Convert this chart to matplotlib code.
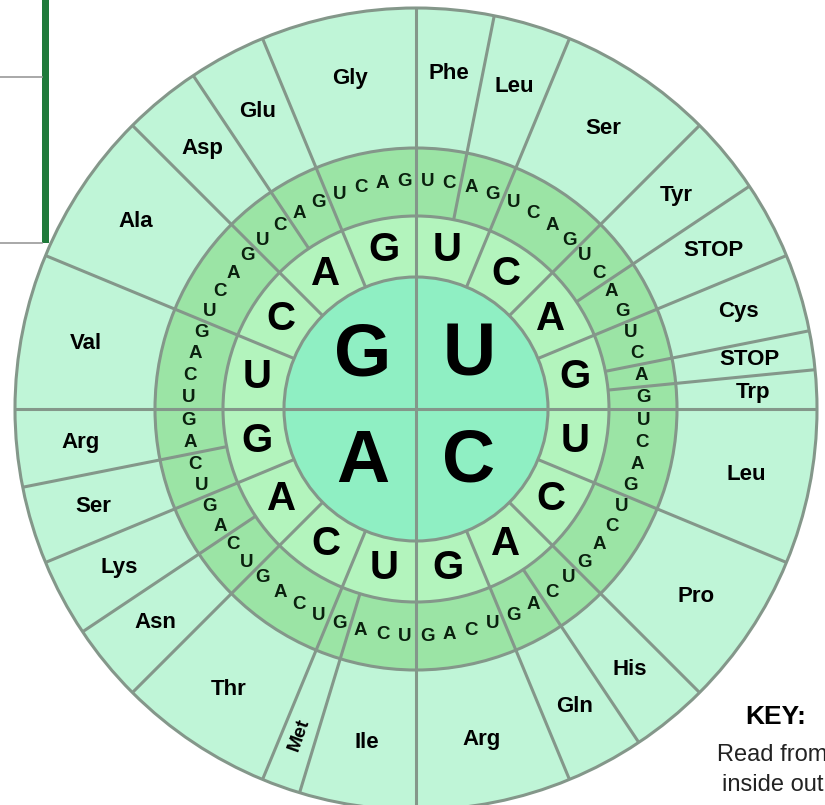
import matplotlib.pyplot as plt
import numpy as np
from matplotlib.patches import Circle, Rectangle

plt.rcParams['font.family'] = ['Liberation Sans', 'DejaVu Sans']

# codon wheel data, clockwise from 12 o'clock
bases = ['U', 'C', 'A', 'G']
amino = ['Phe', 'Phe', 'Leu', 'Leu', 'Ser', 'Ser', 'Ser', 'Ser',
         'Tyr', 'Tyr', 'STOP', 'STOP', 'Cys', 'Cys', 'STOP', 'Trp',
         'Leu', 'Leu', 'Leu', 'Leu', 'Pro', 'Pro', 'Pro', 'Pro',
         'His', 'His', 'Gln', 'Gln', 'Arg', 'Arg', 'Arg', 'Arg',
         'Ile', 'Ile', 'Ile', 'Met', 'Thr', 'Thr', 'Thr', 'Thr',
         'Asn', 'Asn', 'Lys', 'Lys', 'Ser', 'Ser', 'Arg', 'Arg',
         'Val', 'Val', 'Val', 'Val', 'Ala', 'Ala', 'Ala', 'Ala',
         'Asp', 'Asp', 'Glu', 'Glu', 'Gly', 'Gly', 'Gly', 'Gly']
key_title = 'KEY:'
key_text = ['Read from', 'inside out']

# colours
c_center = '#8fefc3'
c_ring2 = '#b3f4bd'
c_ring3 = '#9be4a5'
c_outer = '#bff5d7'
c_line = '#84978a'

W, H = 825, 805
cx, cy = 416, H - 409
r0, r1, r2, R = 132, 193, 261, 401

fig = plt.figure(figsize=(W / 100, H / 100), dpi=100)
ax = fig.add_axes([0, 0, 1, 1])
ax.set_xlim(0, W)
ax.set_ylim(0, H)
ax.axis('off')


def pt(r, th):
    # th = degrees clockwise from top
    a = np.radians(90 - th)
    return cx + r * np.cos(a), cy + r * np.sin(a)


def radial(th, ra, rb):
    x1, y1 = pt(ra, th)
    x2, y2 = pt(rb, th)
    ax.plot([x1, x2], [y1, y2], color=c_line, lw=2.2, zorder=3, solid_capstyle='butt')


# rings
for r, c in [(R, c_outer), (r2, c_ring3), (r1, c_ring2), (r0, c_center)]:
    ax.add_patch(Circle((cx, cy), r, facecolor=c, edgecolor=c_line, lw=2.2, zorder=2))

step = 360 / 64
# radial lines
for k in range(64):
    th = k * step
    if k % 16 == 0:
        radial(th, 0, R)
    elif k % 4 == 0:
        radial(th, r0, R)
    elif amino[k] != amino[k - 1]:
        radial(th, r1, R)

# centre letters
for i, b in enumerate(bases):
    x, y = pt(75, 45 + 90 * i)
    ax.text(x, y, b, fontsize=53, fontweight='bold', ha='center', va='center', zorder=5)

# second letters
for j in range(16):
    x, y = pt(162, 11.25 + 22.5 * j)
    ax.text(x, y, bases[j % 4], fontsize=29, fontweight='bold', ha='center', va='center', zorder=5)

# third letters
for k in range(64):
    x, y = pt(228, step / 2 + step * k)
    ax.text(x, y, bases[k % 4], fontsize=13.5, fontweight='bold', color='#0a200e',
            ha='center', va='center', zorder=5)

# amino acid labels
k = 0
while k < 64:
    n = 1
    while k + n < 64 and (k + n) % 4 != 0 and amino[k + n] == amino[k]:
        n += 1
    th = (k + n / 2) * step
    if amino[k] == 'Met':
        x, y = pt(346, th)
        ax.text(x, y, amino[k], fontsize=14, fontweight='bold', ha='center', va='center',
                rotation=90 - th + 180, zorder=5)
    else:
        x, y = pt(337, th)
        ax.text(x, y, amino[k], fontsize=16, fontweight='bold', ha='center', va='center', zorder=5)
    k += n

# key text
ax.text(776, H - 717, key_title, fontsize=19, fontweight='bold', ha='center', va='center')
ax.text(717, H - 755, key_text[0], fontsize=17, ha='left', va='center', color='#222222')
ax.text(722, H - 785, key_text[1], fontsize=17, ha='left', va='center', color='#222222')

# leftover page elements top-left
ax.add_patch(Rectangle((42, H - 243), 7, 243, facecolor='#1f7a3a', edgecolor='none', zorder=6))
ax.plot([0, 42], [H - 77, H - 77], color='#9a9a9a', lw=1.2, zorder=6)
ax.plot([0, 42], [H - 243, H - 243], color='#9a9a9a', lw=1.2, zorder=6)

plt.savefig('out.png', dpi=100)
